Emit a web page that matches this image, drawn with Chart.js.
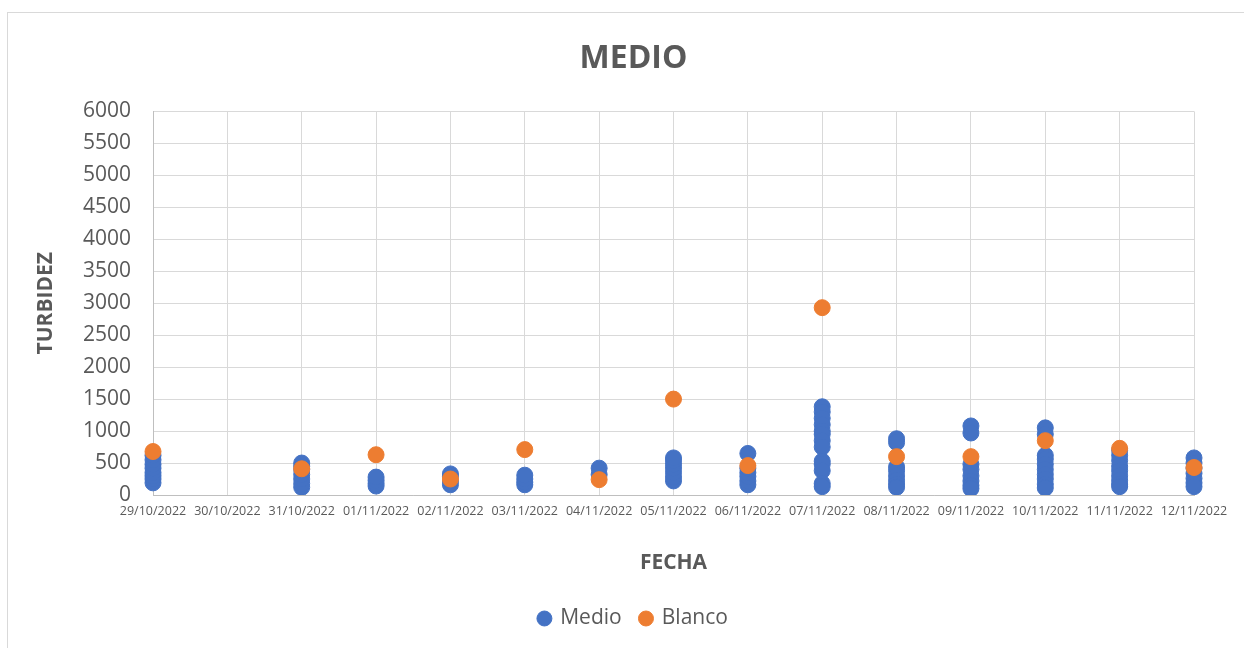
<!DOCTYPE html>
<html lang="es">
<head>
    <meta charset="UTF-8">
    <title>MEDIO</title>
    <script src="https://cdn.jsdelivr.net/npm/chart.js"></script>
    <style>
        html, body {
            margin: 0;
            padding: 0;
            background: #fff;
            overflow: hidden;
            width: 1244px;
            height: 648px;
        }
        .frame {
            position: absolute;
            left: 7px;
            top: 12px;
            width: 1251px;
            height: 700px;
            border: 1px solid #d9d9d9;
            background: #fff;
        }
        .box {
            position: absolute;
            left: 0;
            top: 0;
            width: 1251px;
            height: 635px;
        }
    </style>
</head>
<body>
    <div class="frame">
        <div class="box"><canvas id="chart"></canvas></div>
    </div>

    <script>
        const fechas = ['29/10/2022', '30/10/2022', '31/10/2022', '01/11/2022', '02/11/2022',
            '03/11/2022', '04/11/2022', '05/11/2022', '06/11/2022', '07/11/2022',
            '08/11/2022', '09/11/2022', '10/11/2022', '11/11/2022', '12/11/2022'];

        // turbidez "Medio" por fecha (varias lecturas por día)
        const medio = [
            [190, 250, 300, 350, 420, 480, 550, 620],
            [],
            [120, 180, 250, 320, 400, 450, 500],
            [140, 180, 230, 280],
            [160, 220, 290, 330],
            [160, 200, 250, 310],
            [320, 420],
            [220, 280, 350, 420, 480, 540, 580],
            [160, 220, 290, 350, 420, 650],
            [1380, 1300, 1200, 1100, 1000, 950, 850, 750, 530, 480, 380, 180, 130],
            [880, 820, 440, 380, 300, 230, 170, 120],
            [1080, 970, 480, 400, 300, 220, 150, 100],
            [1050, 950, 620, 560, 480, 400, 320, 250, 170, 110],
            [700, 620, 540, 450, 380, 300, 230, 170, 130],
            [580, 500, 420, 340, 260, 190, 130]
        ];

        // turbidez "Blanco", una lectura por día
        const blanco = [680, null, 410, 630, 250, 710, 240, 1500, 460, 2930, 600, 600, 850, 730, 430];

        const yTicks = { min: 0, max: 6000, step: 500 };

        const medioPts = [];
        medio.forEach((vals, i) => vals.forEach(v => medioPts.push({ x: fechas[i], y: v })));
        const blancoPts = [];
        blanco.forEach((v, i) => { if (v !== null) blancoPts.push({ x: fechas[i], y: v }); });

        const grey = '#595959';
        const font = '"Open Sans", sans-serif';

        new Chart(document.getElementById('chart'), {
            type: 'scatter',
            data: {
                labels: fechas,
                datasets: [{
                    label: 'Medio',
                    data: medioPts,
                    backgroundColor: '#4472c4',
                    borderColor: '#4472c4',
                    borderWidth: 1,
                    pointRadius: 8,
                    yAxisID: 'y',
                    order: 1
                }, {
                    label: 'Blanco',
                    data: blancoPts,
                    backgroundColor: '#ed7d31',
                    borderColor: '#ed7d31',
                    borderWidth: 1,
                    pointRadius: 8,
                    yAxisID: 'y',
                    order: 0
                }]
            },
            options: {
                responsive: true,
                maintainAspectRatio: false,
                animation: false,
                layout: { padding: { left: 0, right: 0, top: 0, bottom: 9 } },
                plugins: {
                    tooltip: { enabled: false },
                    title: {
                        display: true,
                        text: 'MEDIO',
                        color: grey,
                        font: { family: font, size: 32, weight: 'bold' },
                        padding: { top: 27, bottom: 33 }
                    },
                    legend: {
                        position: 'bottom',
                        labels: {
                            usePointStyle: true,
                            pointStyle: 'circle',
                            boxWidth: 10.6,
                            boxHeight: 10.6,
                            padding: 19,
                            color: grey,
                            font: { family: font, size: 21 },
                            sort: (a, b) => a.datasetIndex - b.datasetIndex
                        }
                    }
                },
                scales: {
                    x: {
                        type: 'category',
                        labels: fechas,
                        offset: false,
                        afterFit: s => { s.height = 94; },
                        grid: { color: '#d9d9d9', drawTicks: false },
                        border: { color: '#bfbfbf' },
                        ticks: {
                            color: grey,
                            font: { family: font, size: 12.5 },
                            padding: 9,
                            maxRotation: 0,
                            autoSkip: false
                        },
                        title: {
                            display: true,
                            text: 'FECHA',
                            color: grey,
                            font: { family: font, size: 21, weight: 'bold' },
                            padding: { top: 0, bottom: 13 }
                        }
                    },
                    y: {
                        min: yTicks.min,
                        max: yTicks.max,
                        afterFit: s => { s.width = 145; },
                        grid: { color: '#d9d9d9', drawTicks: false },
                        border: { color: '#bfbfbf' },
                        ticks: {
                            stepSize: yTicks.step,
                            color: grey,
                            font: { family: font, size: 21 },
                            padding: 22,
                            callback: v => String(v)
                        },
                        title: {
                            display: true,
                            text: 'TURBIDEZ',
                            color: grey,
                            font: { family: font, size: 21, weight: 'bold' },
                            padding: { top: 25, bottom: 0 }
                        }
                    },
                    // empty right-hand strip so the plot ends where the original does
                    pad: {
                        type: 'linear',
                        position: 'right',
                        afterFit: s => { s.width = 65; },
                        grid: { display: false, drawOnChartArea: false },
                        border: { display: false },
                        ticks: { display: false }
                    }
                }
            }
        });
    </script>
</body>
</html>
